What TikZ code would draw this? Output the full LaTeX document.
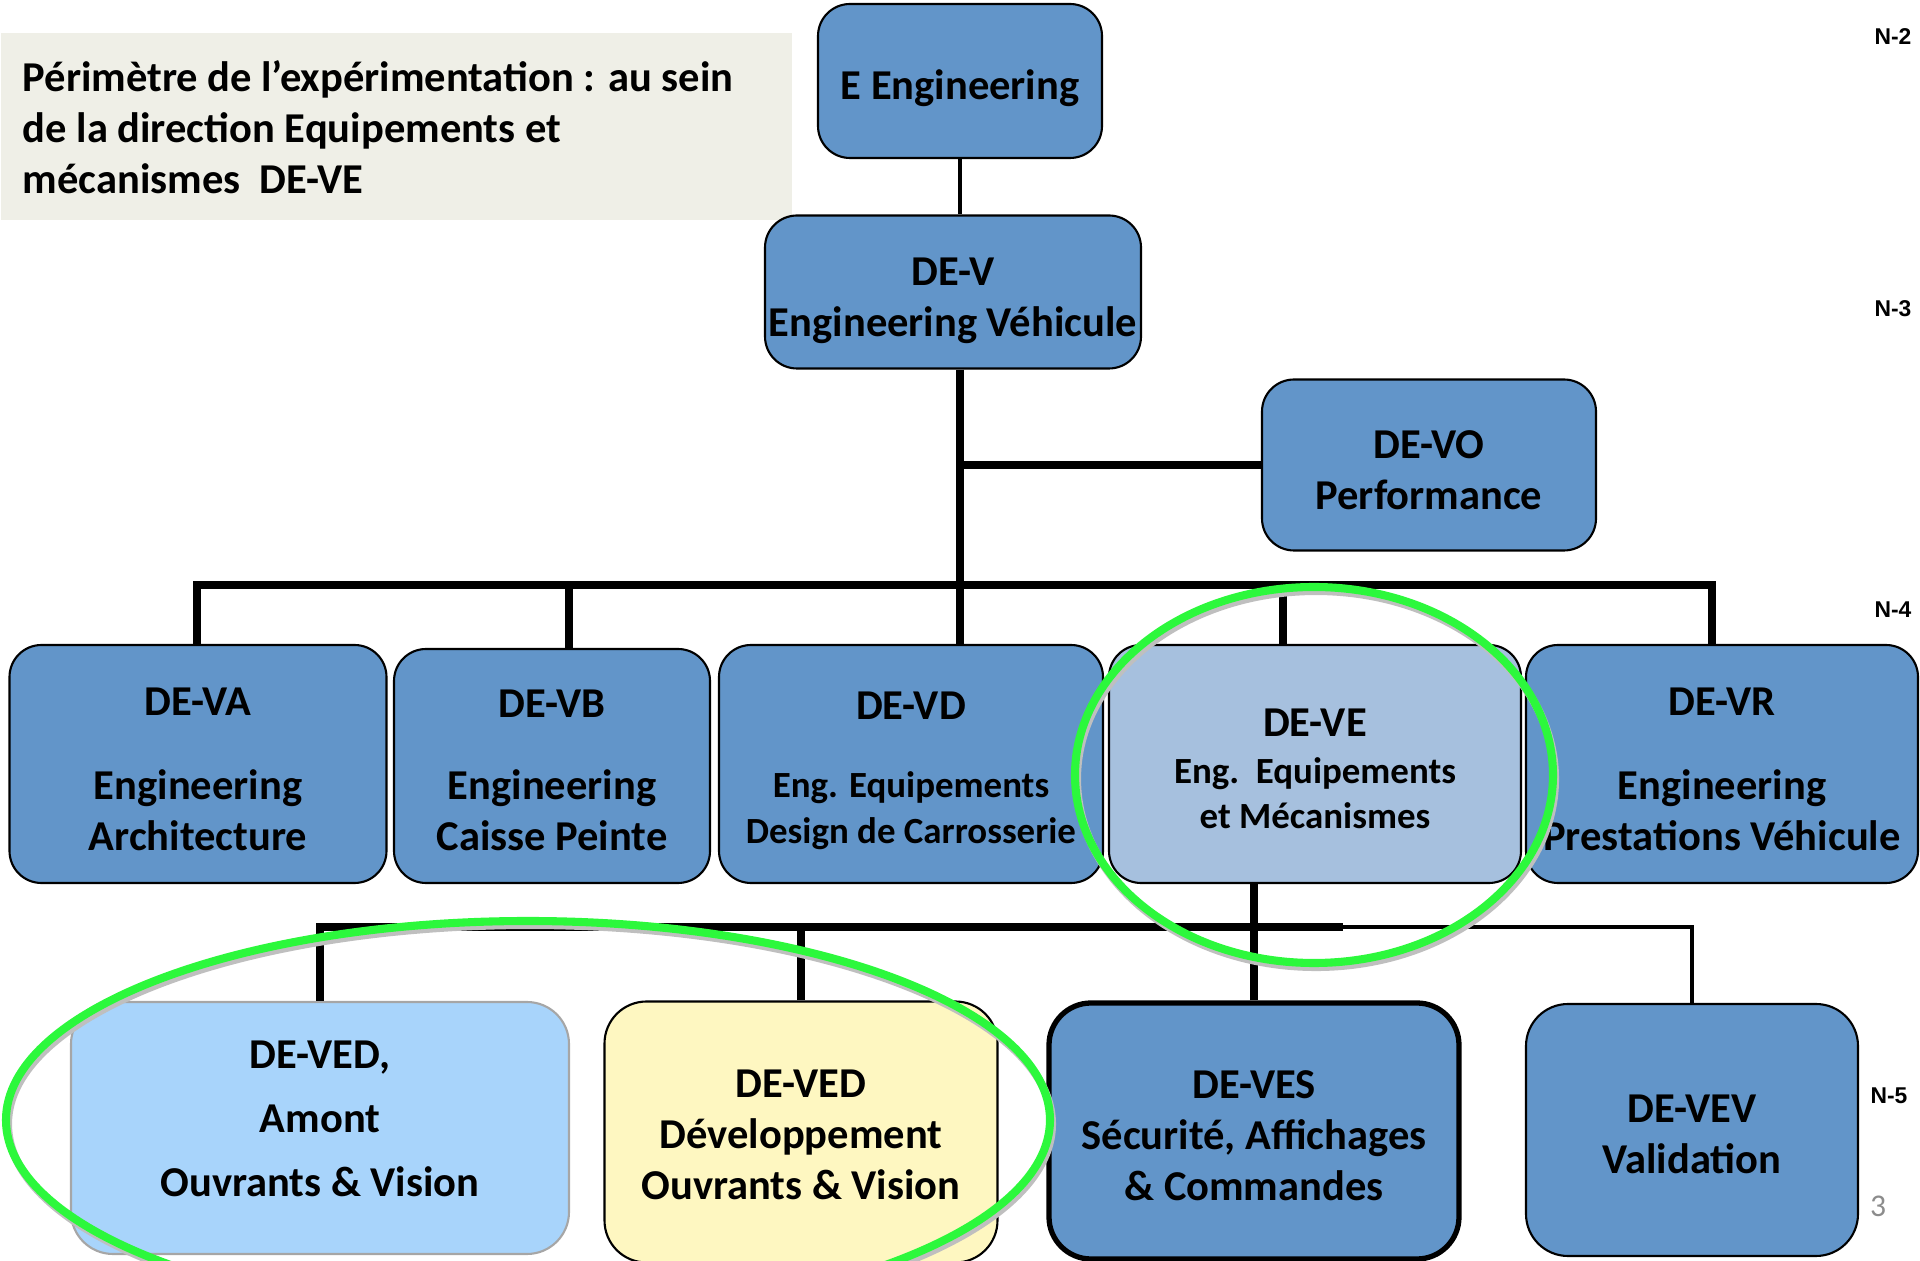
\documentclass[tikz,border=0pt]{standalone}
\usepackage{fontspec}
\setmainfont{Carlito}
\newfontfamily\arialfont{Liberation Sans}
\definecolor{unitblue}{HTML}{6295C9}
\definecolor{paleblue}{HTML}{A6C0DE}
\definecolor{skyblue}{HTML}{A8D4FB}
\definecolor{paleyellow}{HTML}{FEF7C1}
\definecolor{notefill}{HTML}{EFEFE7}
\definecolor{ringgreen}{HTML}{2CF83C}
\definecolor{pagegray}{HTML}{8C8C8C}
\begin{document}
\begin{tikzpicture}
  [x=0.1mm,y=-0.1mm,
   every node/.style={font=\bfseries\fontsize{12.1}{14.5}\selectfont},
   unit/.style={draw=black,line width=0.6pt,rounded corners=3.2mm,fill=unitblue,inner sep=0pt},
   lowunit/.style={unit,rounded corners=4.2mm},
   unittext/.style={align=center,inner sep=0pt},
   smalltext/.style={font=\bfseries\fontsize{10.5}{12.9}\selectfont},
   conn/.style={line width=2.1pt},
   thinconn/.style={line width=1.4pt},
   ring/.style={draw=ringgreen,line width=2.3pt},
   ringshadow/.style={draw=black!25,line width=2.3pt},
   lvl/.style={font=\arialfont\bfseries\fontsize{6.5}{8}\selectfont}]
  \useasboundingbox (0,0) rectangle (1920,1261);
  \clip (0,0) rectangle (1920,1261);

  % note box
  \node[fill=notefill,minimum width=79.1mm,minimum height=18.7mm,inner sep=0pt,anchor=north west] (note) at (0,32) {};
  \node[anchor=west,align=left,inner sep=0pt] (notetext) at ([xshift=2.2mm,yshift=-0.1mm]note.west)
    {Périmètre de l’expérimentation : au sein\\de la direction Equipements et\\mécanismes\ \ DE-VE};

  % levels N-2, N-3
  \node[unit,minimum width=28.4mm,minimum height=15.4mm] (eeng) at (960,81) {};
  \node[unit,minimum width=37.6mm,minimum height=15.3mm] (dev) at (953,292) {};
  \node[unit,minimum width=33.4mm,minimum height=17.1mm] (devo) at (1429,465) {};
  \node[unittext] (eengtext) at ([yshift=-0.7mm]eeng.center) {E Engineering};
  \node[unittext] (devtext) at ([yshift=-0.9mm]dev.center) {DE-V\\Engineering Véhicule};
  \node[unittext] (devotext) at ([yshift=-0.5mm]devo.center) {DE-VO\\Performance};

  % level N-4
  \node[unit,minimum width=37.7mm,minimum height=23.8mm] (deva) at (198,764) {};
  \node[unit,minimum width=31.6mm,minimum height=23.4mm] (devb) at (552,766) {};
  \node[unit,minimum width=38.4mm,minimum height=23.8mm] (devd) at (911,764) {};
  \node[unit,fill=paleblue,minimum width=41.2mm,minimum height=23.8mm] (deve) at (1315,764) {};
  \node[unit,minimum width=39.2mm,minimum height=23.8mm] (devr) at (1722,764) {};
  \node[unittext] (devatext) at ([yshift=-0.5mm]deva.center) {DE-VA\\[9.4pt]Engineering\\Architecture};
  \node[unittext] (devbtext) at ([yshift=-0.4mm]devb.center) {DE-VB\\[8.8pt]Engineering\\Caisse Peinte};
  \node[unittext,smalltext] (devdtext) at ([yshift=-0.7mm]devd.center)
    {{\fontsize{12.1}{14.5}\selectfont DE-VD}\\[9.3pt]Eng. Equipements\\Design de Carrosserie};
  \node[unittext,smalltext] (devetext) at ([yshift=-0.5mm]deve.center)
    {{\fontsize{12.1}{14.5}\selectfont DE-VE}\\[0.3pt]Eng.\ \ Equipements\\et Mécanismes};
  \node[unittext] (devrtext) at ([yshift=-0.5mm]devr.center) {DE-VR\\[9.4pt]Engineering\\Prestations Véhicule};

  % level N-5
  \node[lowunit,draw=black!35,fill=skyblue,minimum width=49.8mm,minimum height=25.2mm] (deved) at (320,1128) {};
  \node[lowunit,fill=paleyellow,minimum width=39.3mm,minimum height=26.1mm] (devedd) at (801,1132) {};
  \node[lowunit,line width=1.5pt,minimum width=41mm,minimum height=25.6mm] (deves) at (1254,1131) {};
  \node[lowunit,minimum width=33.2mm,minimum height=25.2mm] (devev) at (1692,1130) {};
  \node[unittext] (devedtext) at ([yshift=0.9mm]deved.center) {DE-VED,\\[3.7pt]Amont\\[3.7pt]Ouvrants \& Vision};
  \node[unittext] (deveddtext) at ([yshift=-0.3mm]devedd.center) {DE-VED\\Développement\\Ouvrants \& Vision};
  \node[unittext] (devestext) at ([yshift=-0.5mm]deves.center) {DE-VES\\Sécurité, Affichages\\\& Commandes};
  \node[unittext] (devevtext) at ([yshift=-0.4mm]devev.center) {DE-VEV\\Validation};

  % connectors
  \coordinate (busL) at (193,585);
  \coordinate (busR) at (1716,585);
  \coordinate (lowM) at (1343,927);
  \draw[line width=1.3pt] (eeng.south) -- (eeng.south |- dev.north);
  \draw[conn] (eeng.south |- dev.south) -- (eeng.south |- devd.north);
  \draw[conn] (devo.west) -- (devo.west -| eeng.south);
  \draw[conn] (busL) -- (busR);
  \foreach \x/\n in {197/deva,569/devb,1283/deve,1712/devr}{
    \coordinate (drop) at (\x,585);
    \draw[conn] (drop) -- (drop |- \n.north);
  }
  \draw[conn] (deved.north) |- (lowM);
  \draw[conn] (devedd.north) -- (devedd.north |- lowM);
  \draw[conn] (deves.north) -- (deves.north |- deve.south);
  \draw[thinconn] (deves.north |- lowM) -| (devev.north);

  % level marks
  \node[lvl] (n2) at (1893,37) {N-2};
  \node[lvl] (n3) at (1893,309) {N-3};
  \node[lvl] (n4) at (1893,610) {N-4};
  \node[lvl] (n5) at (1889,1096) {N-5};
  \node[font=\fontsize{9}{11}\selectfont,text=pagegray] (page) at (1878,1206) {3};

  % scope rings
  \draw[ringshadow] (1316,779) ellipse [x radius=239, y radius=188];
  \draw[ringshadow] (530,1124) ellipse [x radius=522, y radius=199];
  \draw[ring] (1314,775) ellipse [x radius=239, y radius=188];
  \draw[ring] (528,1120) ellipse [x radius=522, y radius=199];
\end{tikzpicture}
\end{document}
